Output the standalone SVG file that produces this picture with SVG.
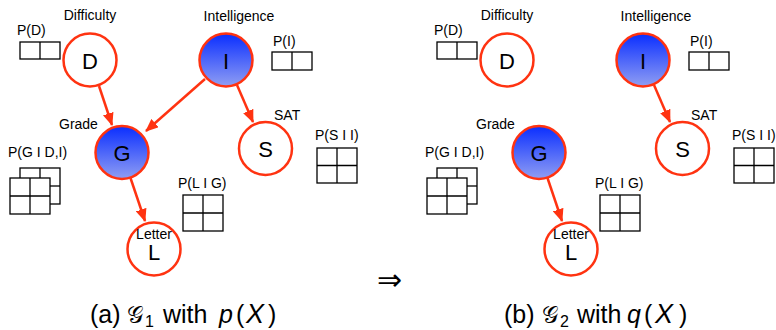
<svg xmlns="http://www.w3.org/2000/svg" width="776" height="330" viewBox="0 0 776 330">
<style>
.lbl{font-family:"Liberation Sans",Arial,sans-serif;font-size:14px;fill:#000}
.let{font-family:"Liberation Sans",Arial,sans-serif;font-size:22px;fill:#000;text-anchor:middle}
.cap{font-family:"Liberation Sans",Arial,sans-serif;font-size:25px;fill:#000}
.scr{font-family:"DejaVu Serif","DejaVu Sans",serif;font-size:23px}
.sub{font-size:16px}
.it{font-style:italic}
.bx{font-style:italic;font-size:27px}
.w{fill:#fff;stroke:#ff3311;stroke-width:2.5}
.b{fill:url(#blue);stroke:#ff3311;stroke-width:2.5}
.tb{fill:#fff;stroke:#000;stroke-width:1.3}
.ln{fill:none;stroke:#000;stroke-width:1.3}
.edge{stroke:#ff3311;stroke-width:2.5;fill:none;marker-end:url(#ah)}
</style>
<defs>
<linearGradient id="blue" x1="0" y1="0" x2="0" y2="1">
<stop offset="0" stop-color="#0a2eff"/>
<stop offset="1" stop-color="#909ef3"/>
</linearGradient>
<marker id="ah" markerUnits="userSpaceOnUse" markerWidth="13" markerHeight="11" refX="12" refY="5.5" orient="auto">
<path d="M0,0 L13,5.5 L0,11 z" fill="#ff3311"/>
</marker>
</defs>

<!-- Panel (a) -->
<g id="panel-a">
<g id="connectors-a">
<line class="edge" x1="99" y1="86" x2="112" y2="125"/>
<line class="edge" x1="205" y1="79" x2="146" y2="131"/>
<line class="edge" x1="237" y1="85" x2="253" y2="122"/>
<line class="edge" x1="130.5" y1="178" x2="145" y2="221"/>
</g>
<g id="a-D">
<text class="lbl" x="90" y="20" text-anchor="middle">Difficulty</text>
<text class="lbl" x="17" y="35">P(D)</text>
<rect class="tb" x="20" y="42" width="40" height="17"/>
<line class="ln" x1="40" y1="42" x2="40" y2="59"/>
<circle class="w" cx="90" cy="60" r="26.5"/>
<text class="let" x="90" y="69">D</text>
</g>
<g id="a-I">
<text class="lbl" x="239" y="21" text-anchor="middle">Intelligence</text>
<text class="lbl" x="273" y="46">P(I)</text>
<rect class="tb" x="272" y="52" width="40" height="18"/>
<line class="ln" x1="292" y1="52" x2="292" y2="70"/>
<circle class="b" cx="226" cy="60" r="26.5"/>
<text class="let" x="226" y="69">I</text>
</g>
<g id="a-G">
<text class="lbl" x="59" y="129">Grade</text>
<text class="lbl" x="8" y="157">P(G I D,I)</text>
<rect class="tb" x="20" y="168" width="40" height="36"/>
<line class="ln" x1="40" y1="168" x2="40" y2="186"/>
<line class="ln" x1="40" y1="186" x2="60" y2="186"/>
<rect class="tb" x="10" y="178" width="40" height="36"/>
<line class="ln" x1="30" y1="178" x2="30" y2="214"/>
<line class="ln" x1="10" y1="196" x2="50" y2="196"/>
<circle class="b" cx="122" cy="152.5" r="26.5"/>
<text class="let" x="122" y="161">G</text>
</g>
<g id="a-S">
<text class="lbl" x="274" y="120">SAT</text>
<text class="lbl" x="315" y="140">P(S I I)</text>
<rect class="tb" x="317" y="148" width="40" height="35"/>
<line class="ln" x1="337" y1="148" x2="337" y2="183"/>
<line class="ln" x1="317" y1="165.5" x2="357" y2="165.5"/>
<circle class="w" cx="265.5" cy="148.5" r="26.5"/>
<text class="let" x="265.5" y="157">S</text>
</g>
<g id="a-L">
<text class="lbl" x="178" y="188">P(L I G)</text>
<rect class="tb" x="183" y="195" width="40" height="36"/>
<line class="ln" x1="203" y1="195" x2="203" y2="231"/>
<line class="ln" x1="183" y1="213" x2="223" y2="213"/>
<circle class="w" cx="154" cy="249" r="26.5"/>
<text class="lbl" x="154" y="239" text-anchor="middle">Letter</text>
<text class="let" x="154" y="260">L</text>
</g>
</g>

<text id="caption-a" class="cap" y="323"><tspan x="90">(a)</tspan><tspan class="scr" x="127">𝒢</tspan><tspan class="sub" x="145" dy="4">1</tspan><tspan x="163" dy="-4">with</tspan><tspan class="it" x="219">p</tspan><tspan x="236">(</tspan><tspan class="bx" x="246">X</tspan><tspan x="268">)</tspan></text>

<text id="implies" x="377" y="290" font-family="DejaVu Sans,sans-serif" font-size="30">⇒</text>

<!-- Panel (b) -->
<g id="panel-b" transform="translate(417,0)">
<g id="connectors-b">
<line class="edge" x1="237" y1="85" x2="253" y2="122"/>
<line class="edge" x1="130.5" y1="178" x2="145" y2="221"/>
</g>
<g id="b-D">
<text class="lbl" x="90" y="20" text-anchor="middle">Difficulty</text>
<text class="lbl" x="17" y="35">P(D)</text>
<rect class="tb" x="20" y="42" width="40" height="17"/>
<line class="ln" x1="40" y1="42" x2="40" y2="59"/>
<circle class="w" cx="90" cy="60" r="26.5"/>
<text class="let" x="90" y="69">D</text>
</g>
<g id="b-I">
<text class="lbl" x="239" y="21" text-anchor="middle">Intelligence</text>
<text class="lbl" x="273" y="46">P(I)</text>
<rect class="tb" x="272" y="52" width="40" height="18"/>
<line class="ln" x1="292" y1="52" x2="292" y2="70"/>
<circle class="b" cx="226" cy="60" r="26.5"/>
<text class="let" x="226" y="69">I</text>
</g>
<g id="b-G">
<text class="lbl" x="59" y="129">Grade</text>
<text class="lbl" x="8" y="157">P(G I D,I)</text>
<rect class="tb" x="20" y="168" width="40" height="36"/>
<line class="ln" x1="40" y1="168" x2="40" y2="186"/>
<line class="ln" x1="40" y1="186" x2="60" y2="186"/>
<rect class="tb" x="10" y="178" width="40" height="36"/>
<line class="ln" x1="30" y1="178" x2="30" y2="214"/>
<line class="ln" x1="10" y1="196" x2="50" y2="196"/>
<circle class="b" cx="122" cy="152.5" r="26.5"/>
<text class="let" x="122" y="161">G</text>
</g>
<g id="b-S">
<text class="lbl" x="274" y="120">SAT</text>
<text class="lbl" x="315" y="140">P(S I I)</text>
<rect class="tb" x="317" y="148" width="40" height="35"/>
<line class="ln" x1="337" y1="148" x2="337" y2="183"/>
<line class="ln" x1="317" y1="165.5" x2="357" y2="165.5"/>
<circle class="w" cx="265.5" cy="148.5" r="26.5"/>
<text class="let" x="265.5" y="157">S</text>
</g>
<g id="b-L">
<text class="lbl" x="178" y="188">P(L I G)</text>
<rect class="tb" x="183" y="195" width="40" height="36"/>
<line class="ln" x1="203" y1="195" x2="203" y2="231"/>
<line class="ln" x1="183" y1="213" x2="223" y2="213"/>
<circle class="w" cx="154" cy="249" r="26.5"/>
<text class="lbl" x="154" y="239" text-anchor="middle">Letter</text>
<text class="let" x="154" y="260">L</text>
</g>
</g>

<text id="caption-b" class="cap" y="323"><tspan x="504">(b)</tspan><tspan class="scr" x="542">𝒢</tspan><tspan class="sub" x="560" dy="4">2</tspan><tspan x="577" dy="-4">with</tspan><tspan class="it" x="627">q</tspan><tspan x="644">(</tspan><tspan class="bx" x="655">X</tspan><tspan x="679">)</tspan></text>
</svg>
